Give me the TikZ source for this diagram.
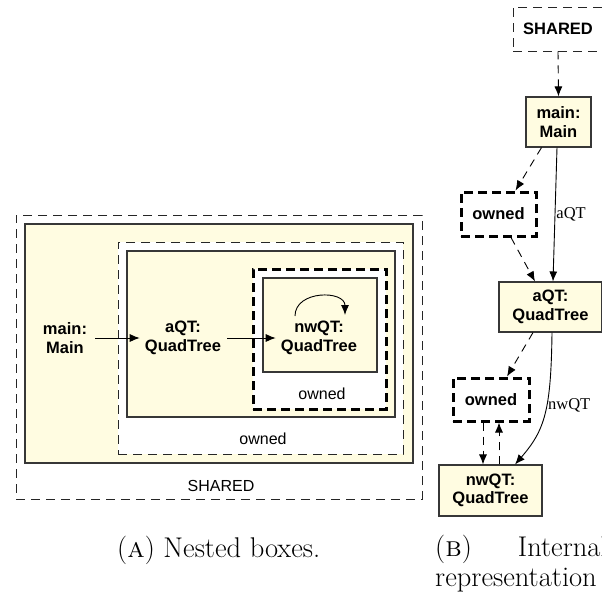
\documentclass[tikz,border=0pt]{standalone}
\usepackage{fontspec}
\setsansfont{Liberation Sans}
\newfontfamily\labelserif{Liberation Serif}
\usetikzlibrary{arrows.meta,calc}

\definecolor{objfill}{RGB}{255,252,225}
\definecolor{objline}{RGB}{55,55,55}

\tikzset{
  objbox/.style={draw=objline, line width=1.1pt, fill=objfill, inner sep=0pt},
  sharedbox/.style={draw=black!85, line width=0.9pt, dash pattern=on 9pt off 6pt, inner sep=0pt},
  ownedthin/.style={draw=black!85, fill=white, line width=0.9pt, dash pattern=on 9pt off 6pt, inner sep=0pt},
  ownedthick/.style={draw=black, fill=white, line width=3pt, dash pattern=on 9pt off 5pt, inner sep=0pt},
  objtext/.style={font=\sffamily\bfseries\fontsize{16.5}{18.5}\selectfont, align=center, inner sep=4pt},
  plaintext/.style={font=\sffamily\fontsize{16}{18}\selectfont, inner sep=0pt},
  arr/.style={-{Latex[length=10pt,width=8pt]}, line width=0.9pt},
  dasharr/.style={arr, dash pattern=on 8pt off 6pt},
  edgelabel/.style={font=\labelserif\fontsize{16.5}{18}\selectfont, inner sep=1pt},
  captext/.style={font=\fontsize{28.5}{30}\selectfont, inner sep=0pt, align=left}
}

\begin{document}
\begin{tikzpicture}[x=1pt, y=-1pt]
  \useasboundingbox (0,0) rectangle (602,595);
  \clip (0,0) rectangle (602,595);

  % ---------- nested boxes ----------
  \node[sharedbox, minimum width=406pt, minimum height=284pt] (sharedA) at (219,357) {};
  \node[objbox, minimum width=388pt, minimum height=239pt] (mainA) at (219,343.5) {};
  \node[ownedthin, minimum width=285pt, minimum height=212pt] (ownedA) at (260.5,348) {};
  \node[objbox, minimum width=268pt, minimum height=166pt] (aqtA) at (261,334) {};
  \node[ownedthick, minimum width=133pt, minimum height=140pt] (ownedAA) at (319.5,339) {};
  \node[objbox, minimum width=114pt, minimum height=94pt] (nwqtA) at (320,325) {};

  \node[objtext] (mainT) at (65,338) {main:\\Main};
  \node[objtext] (aqtT) at (183,338) {aQT:\\QuadTree};
  \node[objtext] (nwqtT) at (319,338) {nwQT:\\QuadTree};

  \draw[arr, shorten <=4pt, shorten >=1pt] (mainT.east) -- (aqtT.west);
  \draw[arr, shorten <=2pt, shorten >=1pt] (aqtT.east) -- (nwqtT.west);

  \coordinate (loopS) at (295,316);
  \coordinate (loopE) at (345,315);
  \draw[arr] (loopS) .. controls (295,290) and (345,290) .. (loopE);

  \node[plaintext] (ownedAAlbl) at (322,394) {owned};
  \node[plaintext] (ownedAlbl) at (263,439) {owned};
  \node[plaintext] (sharedAlbl) at (221,486) {SHARED};

  % ---------- object graph ----------
  \node[sharedbox, objtext, minimum width=90pt, minimum height=44pt] (sharedB) at (558,29) {SHARED};
  \node[objbox, objtext, minimum width=65pt, minimum height=50pt] (mainB) at (558.5,122) {main:\\Main};
  \node[ownedthick, objtext, minimum width=75pt, minimum height=44pt] (ownedB1) at (498.5,214) {owned};
  \node[objbox, objtext, minimum width=103pt, minimum height=50pt] (aqtB) at (550.5,307) {aQT:\\QuadTree};
  \node[ownedthick, objtext, minimum width=76pt, minimum height=43pt] (ownedB2) at (491,399.5) {owned};
  \node[objbox, objtext, minimum width=103pt, minimum height=51pt] (nwqtB) at (490.5,490.5) {nwQT:\\QuadTree};

  \draw[dasharr] (sharedB.south) -- (mainB.north);
  \draw[dasharr] ([xshift=-17pt]mainB.south) -- ([xshift=17pt]ownedB1.north);
  \draw[arr] ([xshift=-1.5pt]mainB.south) -- node[edgelabel, pos=0.5, anchor=west] {aQT} ([xshift=2.5pt]aqtB.north);
  \draw[dasharr] ([xshift=12.5pt]ownedB1.south) -- ([xshift=-15.5pt]aqtB.north);
  \draw[dasharr] ([xshift=-17.5pt]aqtB.south) -- ([xshift=16pt]ownedB2.north);
  \draw[arr] ([xshift=1.5pt]aqtB.south) .. controls (551,410) and (545,430) .. node[edgelabel, pos=0.42, anchor=west] {nwQT} ([xshift=24.5pt]nwqtB.north);
  \draw[dasharr] ([xshift=-8pt]ownedB2.south) -- ([xshift=-7.5pt]nwqtB.north);
  \draw[dasharr] ([xshift=8.5pt]nwqtB.north) -- ([xshift=8pt]ownedB2.south);

  % ---------- captions ----------
  \node[captext, anchor=base west] (capA) at (117,557) {(\textsc{a})\ Nested boxes.};
  \node[captext, anchor=base west] (capB) at (435,586) {(\textsc{b})\hspace*{46pt}Internal\\representation};
\end{tikzpicture}
\end{document}
